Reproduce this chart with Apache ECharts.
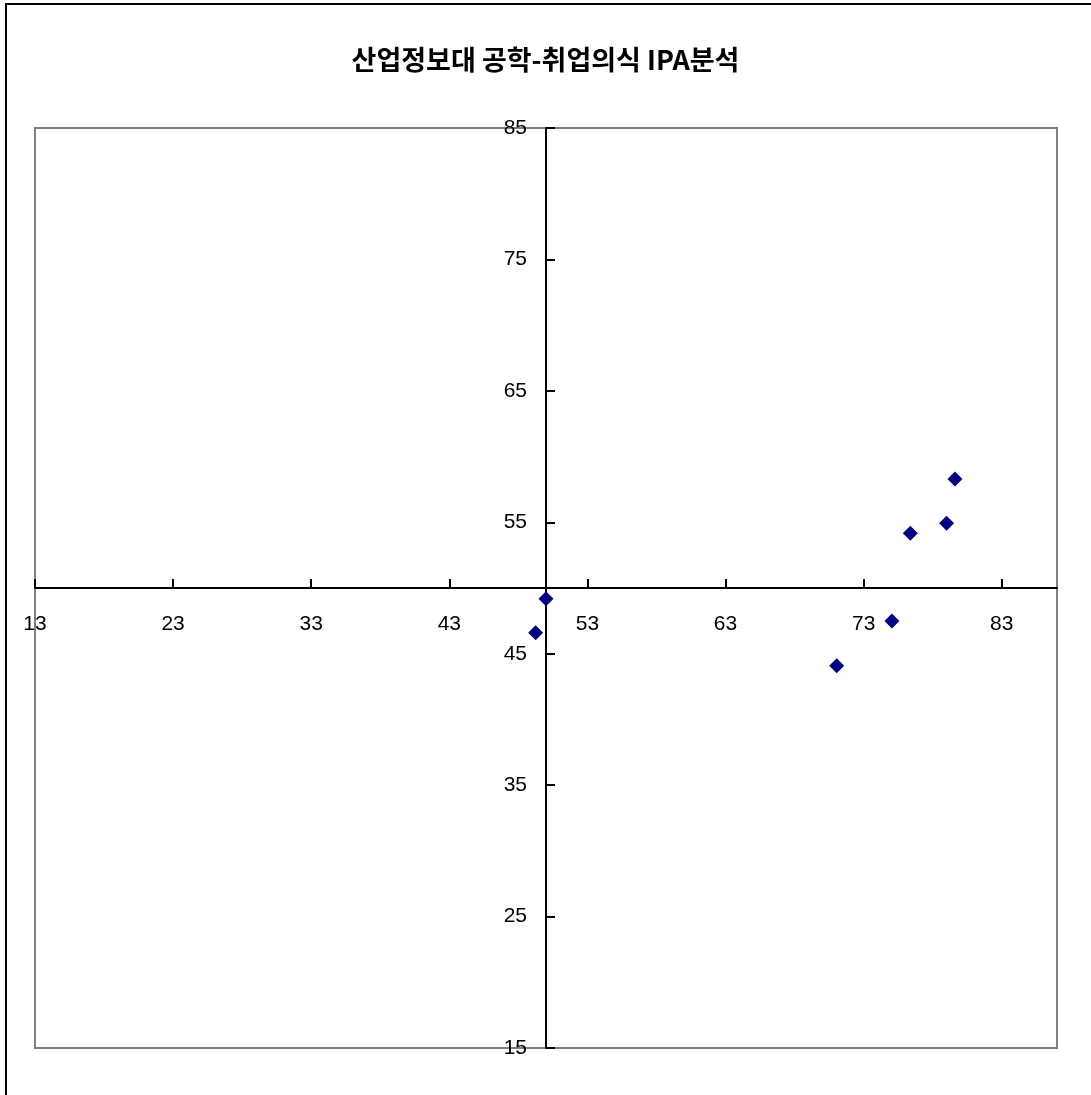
<!DOCTYPE html>
<html>
<head>
<meta charset="utf-8">
<script src="https://cdn.jsdelivr.net/npm/echarts@6/dist/echarts.min.js"></script>
<style>
html,body{margin:0;padding:0;background:#fff;}
#chart{width:1091px;height:1095px;}
</style>
</head>
<body>
<div id="chart"></div>
<script>
// Data
const titleText = '산업정보대 공학-취업의식 IPA분석';
const xValues = [50.0, 49.25, 71.05, 75.05, 76.38, 79.01, 79.61];
const yValues = [49.19, 46.6, 44.09, 47.49, 54.16, 54.92, 58.29];
const xTicks = [13, 23, 33, 43, 53, 63, 73, 83];
const yTicks = [15, 25, 35, 45, 55, 65, 75, 85];
const xMin = 13, xMax = 87;
const yMin = 15, yMax = 85;
const crossX = 50, crossY = 50; // where the axes cross

const points = xValues.map((x, i) => [x, yValues[i]]);

const gridLeft = 35, gridTop = 128, gridW = 1022, gridH = 920;
// offsets that move each axis line to the crossing value of the other axis
const xAxisOffset = -gridH * (crossY - yMin) / (yMax - yMin);
const yAxisOffset = -gridW * (crossX - xMin) / (xMax - xMin);

const labelFont = {fontFamily: 'Liberation Sans, Arial, sans-serif', fontSize: 21, color: '#000'};

const chart = echarts.init(document.getElementById('chart'), null, {renderer: 'canvas'});
chart.setOption({
  backgroundColor: '#fff',
  animation: false,
  title: {
    text: titleText,
    left: 'center',
    top: 41,
    textStyle: {fontFamily: 'Noto Sans CJK KR', fontWeight: 'bold', fontSize: 27, color: '#000'}
  },
  graphic: [{
    type: 'rect',
    shape: {x: 6, y: 4, width: 1200, height: 1200},
    style: {fill: 'none', stroke: '#000', lineWidth: 2},
    silent: true, z: 100
  }],
  grid: {
    left: gridLeft, top: gridTop, width: gridW, height: gridH,
    show: true, borderColor: '#808080', borderWidth: 2, backgroundColor: 'transparent',
    containLabel: false, outerBoundsMode: 'none'
  },
  xAxis: {
    type: 'value', position: 'bottom', offset: xAxisOffset,
    min: xMin, max: xMax,
    interval: 10,
    splitLine: {show: false},
    axisLine: {show: true, onZero: false, lineStyle: {color: '#000', width: 2}},
    axisTick: {show: true, inside: true, length: 9, lineStyle: {color: '#000', width: 2},
               customValues: xTicks},
    axisLabel: Object.assign({margin: 26, customValues: xTicks, hideOverlap: false}, labelFont)
  },
  yAxis: {
    type: 'value', position: 'left', offset: yAxisOffset,
    min: yMin, max: yMax,
    interval: 10,
    splitLine: {show: false},
    axisLine: {show: true, onZero: false, lineStyle: {color: '#000', width: 2}},
    axisTick: {show: true, inside: true, length: 9, lineStyle: {color: '#000', width: 2},
               customValues: yTicks},
    axisLabel: Object.assign({margin: 19, customValues: yTicks, hideOverlap: false}, labelFont)
  },
  series: [{
    type: 'scatter',
    data: points,
    symbol: 'diamond',
    symbolSize: 15,
    itemStyle: {color: '#000080', opacity: 1},
    z: 10
  }]
});
</script>
</body>
</html>
